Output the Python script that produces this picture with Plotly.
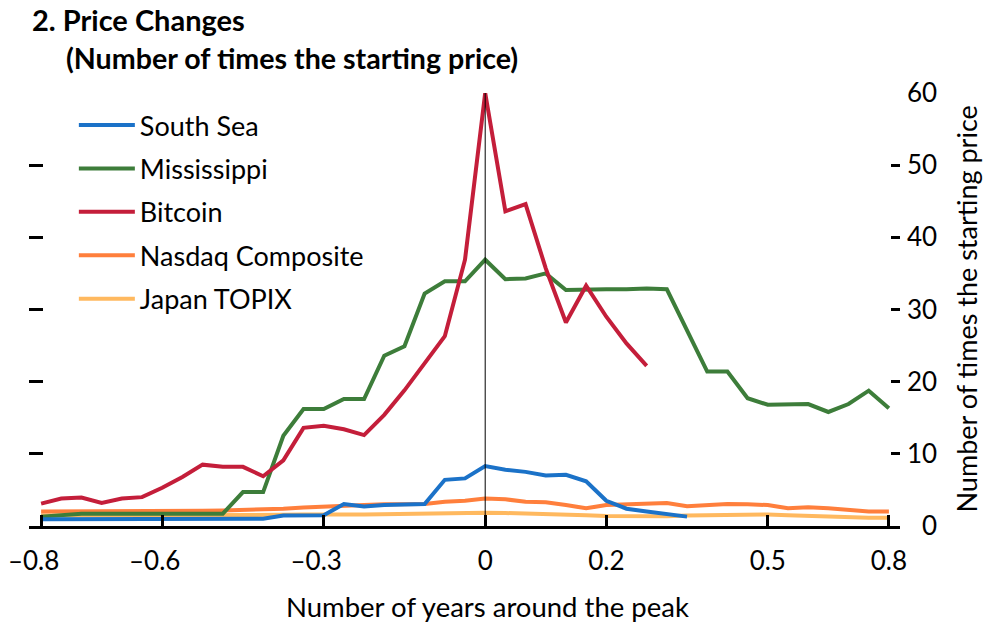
import plotly.graph_objects as go

# x positions: steps around the peak (0 = peak)
periods = list(range(-22, 21))
x_tick_vals = [-22, -16, -8, 0, 6, 14, 20]
x_tick_labels = ["–0.8", "–0.6", "–0.3", "0", "0.2", "0.5", "0.8"]
y_tick_vals = [0, 10, 20, 30, 40, 50, 60]
y_tick_labels = ["0", "10", "20", "30", "40", "50", "60"]

south_sea = [0.95, 0.95, 0.95, 0.95, 0.95, 0.95, 0.95, 0.95, 1.0, 1.0,
             1.0, 1.0, 1.45, 1.5, 1.5, 3.05, 2.7, 2.9, 2.95, 3.05, 6.4, 6.6,
             8.3, 7.8, 7.5, 7.0, 7.1, 6.2, 3.5, 2.4, 2.0, 1.6, 1.3,
             None, None, None, None, None, None, None, None, None, None]
mississippi = [1.3, 1.5, 1.7, 1.7, 1.7, 1.7, 1.7, 1.7, 1.7, 1.7,
               4.7, 4.7, 12.5, 16.2, 16.2, 17.6, 17.6, 23.6, 24.9, 32.2, 33.9, 33.9,
               36.9, 34.2, 34.3, 35.0, 32.7, 32.8, 32.8, 32.8, 32.9, 32.8, 27.1,
               21.4, 21.4, 17.7, 16.8, 16.8, 16.9, 15.8, 16.9, 18.75, 16.3]
bitcoin = [3.1, 3.8, 3.95, 3.2, 3.8, 4.0, 5.3, 6.8, 8.5, 8.2,
           8.2, 6.9, 9.1, 13.6, 13.9, 13.4, 12.6, 15.4, 18.8, 22.6, 26.3, 36.9,
           60.0, 43.6, 44.6, 35.7, 28.2, 33.3, 29.0, 25.3, 22.2,
           None, None, None, None, None, None, None, None, None, None, None, None]
nasdaq = [2.0, 2.0, 2.0, 2.05, 2.1, 2.1, 2.1, 2.1, 2.1, 2.15,
          2.2, 2.3, 2.4, 2.55, 2.7, 2.8, 2.9, 3.0, 3.0, 3.05, 3.35, 3.5,
          3.8, 3.7, 3.35, 3.3, 2.9, 2.45, 2.9, 3.0, 3.05, 3.2, 2.75,
          2.85, 3.05, 3.0, 2.9, 2.45, 2.6, 2.45, 2.2, 2.0, 2.0]
topix = [1.45, 1.45, 1.5, 1.5, 1.5, 1.5, 1.5, 1.5, 1.5, 1.5,
         1.55, 1.55, 1.55, 1.6, 1.65, 1.6, 1.6, 1.65, 1.7, 1.7, 1.75, 1.8,
         1.85, 1.8, 1.75, 1.7, 1.65, 1.5, 1.4, 1.35, 1.3, 1.35, 1.45,
         1.5, 1.55, 1.6, 1.6, 1.5, 1.4, 1.3, 1.2, 1.15, 1.15]

FONT = "Lato"
HID = "<span style='color:rgba(0,0,0,0)'>%s</span>"

# name, values, colour, legend rank, axis
series = [
    ("Japan TOPIX", topix, "#ffb95f", 5, "y"),
    ("Nasdaq Composite", nasdaq, "#ff7f3c", 4, "y"),
    ("Mississippi", mississippi, "#3d7d3a", 2, "y"),
    ("South Sea", south_sea, "#1b72c8", 1, "y"),
    ("Bitcoin", bitcoin, "#c41e3a", 3, "y2"),
]

fig = go.Figure()
for name, vals, color, rank, ax in series:
    fig.add_trace(go.Scatter(
        x=periods, y=vals, name=name, mode="lines", yaxis=ax,
        line=dict(color=color, width=4),
        legendrank=rank, legendgroup=name, cliponaxis=False,
    ))

xt = [t + (HID % "–") if t.startswith("–") else t for t in x_tick_labels]
yt = [(HID % "0") + t if len(t) == 1 else t for t in y_tick_labels]

fig.update_layout(
    template="none",
    width=995, height=631,
    margin=dict(l=29, r=95, t=93, b=105, pad=0, autoexpand=False),
    paper_bgcolor="white", plot_bgcolor="white",
    font=dict(family=FONT, size=26, color="black"),
    showlegend=True,
    legend=dict(x=0.0515, y=0.9815, xanchor="left", yanchor="top",
                font=dict(size=27), bgcolor="rgba(0,0,0,0)",
                itemwidth=56, tracegroupgap=5.3),
    xaxis=dict(range=[-22.6, 20.55], tickvals=x_tick_vals, ticktext=xt,
               ticks="inside", ticklen=11, tickwidth=3, tickcolor="black",
               showline=True, linewidth=3, linecolor="black", automargin=False,
               showgrid=False, zeroline=False, ticklabelstandoff=10,
               ticklabeloverflow="allow"),
    yaxis=dict(range=[0, 60], tickvals=y_tick_vals, ticks="inside",
               ticklen=14, tickwidth=3, tickcolor="black", automargin=False,
               showticklabels=False, showgrid=False, zeroline=False,
               showline=False),
    yaxis2=dict(range=[0, 60], tickvals=y_tick_vals, ticktext=yt,
                overlaying="y", side="right", anchor="x", automargin=False,
                ticks="inside", ticklen=9, tickwidth=3, tickcolor="black",
                showgrid=False, zeroline=False, showline=False,
                ticklabelstandoff=6, ticklabeloverflow="allow"),
)

fig.add_shape(type="line", xref="x", yref="paper", x0=0, x1=0, y0=0, y1=1,
              line=dict(color="black", width=1), layer="above")

fig.add_annotation(text="<b>2. Price Changes</b>", xref="paper", yref="paper",
                   x=(30 - 29) / 871, y=1.0, xanchor="left", yanchor="middle",
                   yshift=93 - 19, showarrow=False,
                   font=dict(size=29, family=FONT))
fig.add_annotation(text="<b>(Number of times the starting price)</b>",
                   xref="paper", yref="paper", x=(64 - 29) / 871, y=1.0,
                   xanchor="left", yanchor="middle",
                   yshift=93 - 58, showarrow=False,
                   font=dict(size=28.6, family=FONT))
fig.add_annotation(text="Number of years around the peak", xref="paper",
                   yref="paper", x=(487 - 29) / 871, y=0, xanchor="center",
                   yanchor="middle", yshift=-(606 - 526), showarrow=False,
                   font=dict(size=27.5, family=FONT))
fig.add_annotation(text="Number of times the starting price", xref="paper",
                   yref="paper", x=(966 - 29) / 871, y=0.5, xanchor="center",
                   yanchor="middle", textangle=-90, showarrow=False,
                   font=dict(size=27, family=FONT))

# remove the browser's default 8px page margin so the figure fills the window
fig.write_html("out.html",
               config={"displayModeBar": False},
               post_script="document.body.style.margin='0px';")
